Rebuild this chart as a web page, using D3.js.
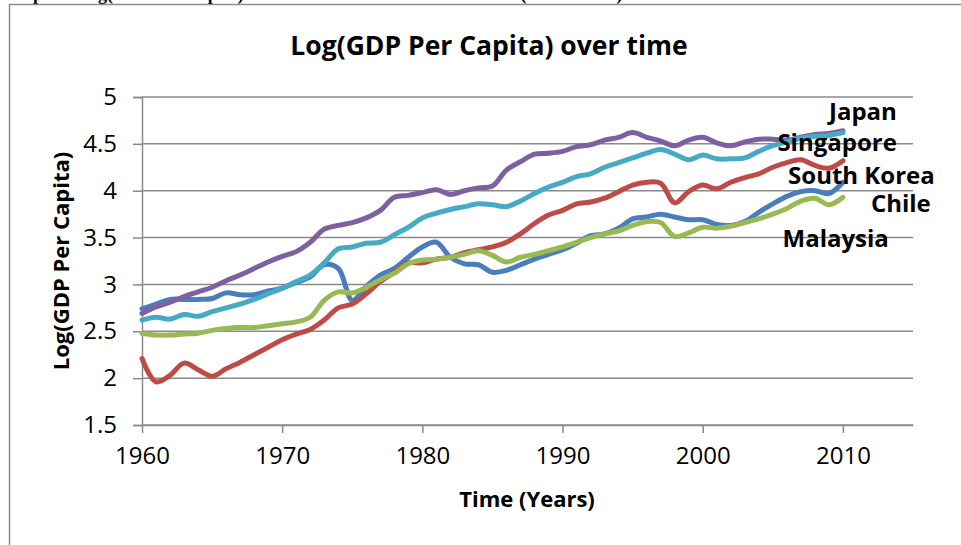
<!DOCTYPE html>
<html>
<head>
<meta charset="utf-8">
<script src="https://cdn.jsdelivr.net/npm/d3@7/dist/d3.min.js"></script>
<style>
  html, body { margin: 0; padding: 0; background: #fff; }
  svg { display: block; }
  text { font-family: "Open Sans", "Liberation Sans", sans-serif; fill: #000; }
</style>
</head>
<body>
<svg id="chart" width="961" height="545"></svg>
<script>
// Log(GDP per capita), 1960–2010
const years = d3.range(1960, 2011);

const chile = [2.74, 2.79, 2.84, 2.84, 2.84, 2.85, 2.91, 2.89, 2.89, 2.93,
  2.96, 3.02, 3.08, 3.21, 3.17, 2.83, 2.98, 3.10, 3.17, 3.29,
  3.40, 3.45, 3.29, 3.22, 3.21, 3.13, 3.15, 3.21, 3.27, 3.32,
  3.37, 3.44, 3.52, 3.54, 3.60, 3.70, 3.72, 3.75, 3.72, 3.69,
  3.69, 3.64, 3.63, 3.67, 3.77, 3.86, 3.94, 3.99, 4.00, 3.97, 4.09];

const southKorea = [2.21, 1.96, 2.03, 2.16, 2.09, 2.02, 2.10, 2.17, 2.25, 2.33,
  2.41, 2.47, 2.52, 2.62, 2.75, 2.79, 2.90, 3.03, 3.13, 3.23,
  3.23, 3.27, 3.29, 3.34, 3.37, 3.40, 3.45, 3.54, 3.65, 3.74,
  3.79, 3.86, 3.88, 3.92, 3.99, 4.06, 4.09, 4.08, 3.87, 3.99,
  4.06, 4.02, 4.09, 4.14, 4.18, 4.25, 4.30, 4.33, 4.27, 4.24, 4.32];

const malaysia = [2.48, 2.46, 2.46, 2.47, 2.48, 2.51, 2.53, 2.54, 2.54, 2.56,
  2.58, 2.60, 2.65, 2.83, 2.92, 2.91, 2.97, 3.05, 3.12, 3.22,
  3.26, 3.27, 3.29, 3.32, 3.36, 3.31, 3.24, 3.29, 3.32, 3.36,
  3.40, 3.45, 3.50, 3.54, 3.57, 3.63, 3.67, 3.66, 3.51, 3.55,
  3.61, 3.60, 3.62, 3.66, 3.70, 3.75, 3.81, 3.89, 3.92, 3.85, 3.93];

const japan = [2.69, 2.76, 2.81, 2.87, 2.92, 2.97, 3.04, 3.10, 3.17, 3.24,
  3.30, 3.35, 3.45, 3.59, 3.63, 3.66, 3.71, 3.79, 3.93, 3.95,
  3.98, 4.01, 3.96, 4.00, 4.03, 4.05, 4.22, 4.31, 4.39, 4.40,
  4.42, 4.47, 4.49, 4.54, 4.57, 4.62, 4.57, 4.53, 4.48, 4.54,
  4.57, 4.51, 4.48, 4.52, 4.55, 4.55, 4.54, 4.57, 4.60, 4.61, 4.64];

const singapore = [2.62, 2.65, 2.63, 2.68, 2.66, 2.71, 2.75, 2.79, 2.84, 2.90,
  2.96, 3.03, 3.10, 3.23, 3.38, 3.40, 3.44, 3.45, 3.53, 3.61,
  3.71, 3.76, 3.80, 3.83, 3.86, 3.85, 3.83, 3.89, 3.97, 4.04,
  4.09, 4.15, 4.18, 4.25, 4.30, 4.35, 4.40, 4.44, 4.39, 4.33,
  4.38, 4.34, 4.34, 4.35, 4.42, 4.48, 4.52, 4.56, 4.58, 4.59, 4.62];

const seriesNames = ["Chile", "South Korea", "Malaysia", "Japan", "Singapore"];
const seriesValues = [chile, southKorea, malaysia, japan, singapore];
const seriesColors = ["#4a7ebb", "#be4b48", "#98b954", "#7d60a0", "#46aac5"];

// country name labels: [name, year of right edge, value at vertical centre]
const labelNames = ["Japan", "Singapore", "South Korea", "Chile", "Malaysia"];
const labelYears = [2013.85, 2013.85, 2016.55, 2016.27, 2013.28];
const labelValues = [4.86, 4.52, 4.17, 3.87, 3.50];

const yTicks = [1.5, 2, 2.5, 3, 3.5, 4, 4.5, 5];
const xTicks = [1960, 1970, 1980, 1990, 2000, 2010];

const svg = d3.select("#chart");

// caption line of the surrounding document, mostly above the page edge
svg.append("text")
  .attr("x", 2).attr("y", 0)
  .style("font-family", "'Liberation Serif', serif")
  .style("font-weight", "bold")
  .style("font-size", "18px")
  .text("Graph 1: Log(GDP Per Capita) over time for the selected countries (1960 – 2010)");

// chart frame
svg.append("rect")
  .attr("x", 9.5).attr("y", 4.5)
  .attr("width", 1000).attr("height", 600)
  .attr("fill", "#fff")
  .attr("stroke", "#8e8e8e")
  .attr("stroke-width", 1.5);

const x = d3.scaleLinear().domain([1960, 2015]).range([142, 913]);
const y = d3.scaleLinear().domain([1.5, 5]).range([425, 97]);

const gridColor = "#8a8a8a";

// horizontal gridlines
svg.append("g")
  .selectAll("line")
  .data(yTicks)
  .join("line")
  .attr("x1", x(1960)).attr("x2", x(2015))
  .attr("y1", d => y(d)).attr("y2", d => y(d))
  .attr("stroke", gridColor)
  .attr("stroke-width", 1.5);

// y axis
const yAxis = svg.append("g")
  .attr("transform", `translate(${x(1960)},0)`)
  .call(d3.axisLeft(y).tickValues(yTicks).tickSize(9).tickPadding(16).tickFormat(d3.format("")));
yAxis.select(".domain").attr("stroke", gridColor).attr("stroke-width", 1.5);
yAxis.selectAll(".tick line").attr("stroke", gridColor).attr("stroke-width", 1.5);
yAxis.selectAll(".tick text")
  .style("font-family", "'Open Sans', sans-serif")
  .style("font-size", "24px")
  .attr("fill", "#000");

// x axis
const xAxis = svg.append("g")
  .attr("transform", `translate(0,${y(1.5)})`)
  .call(d3.axisBottom(x).tickValues(xTicks).tickSize(8).tickPadding(14).tickFormat(d3.format("d")).tickSizeOuter(0));
xAxis.select(".domain").attr("stroke", gridColor).attr("stroke-width", 1.5);
xAxis.selectAll(".tick line").attr("stroke", gridColor).attr("stroke-width", 1.5);
xAxis.selectAll(".tick text")
  .style("font-family", "'Open Sans', sans-serif")
  .style("font-size", "24px")
  .attr("fill", "#000");

// series lines
const line = d3.line()
  .x((d, i) => x(years[i]))
  .y(d => y(d))
  .curve(d3.curveCatmullRom.alpha(0.5));

svg.append("g")
  .selectAll("path")
  .data(seriesValues)
  .join("path")
  .attr("d", d => line(d))
  .attr("fill", "none")
  .attr("stroke", (d, i) => seriesColors[i])
  .attr("stroke-width", 5)
  .attr("stroke-linejoin", "round")
  .attr("stroke-linecap", "round");

// country labels
svg.append("g")
  .selectAll("text")
  .data(labelNames)
  .join("text")
  .attr("x", (d, i) => x(labelYears[i]))
  .attr("y", (d, i) => y(labelValues[i]))
  .attr("text-anchor", "end")
  .attr("dominant-baseline", "central")
  .style("font-weight", "bold")
  .style("font-size", "24px")
  .text(d => d);

// title
svg.append("text")
  .attr("x", 489).attr("y", 45)
  .attr("text-anchor", "middle")
  .attr("dominant-baseline", "central")
  .style("font-weight", "bold")
  .style("font-size", "26.5px")
  .text("Log(GDP Per Capita) over time");

// axis titles
svg.append("text")
  .attr("x", 527).attr("y", 498)
  .attr("text-anchor", "middle")
  .attr("dominant-baseline", "central")
  .style("font-weight", "bold")
  .style("font-size", "22px")
  .text("Time (Years)");

svg.append("text")
  .attr("transform", "translate(60,261) rotate(-90)")
  .attr("text-anchor", "middle")
  .attr("dominant-baseline", "central")
  .style("font-weight", "bold")
  .style("font-size", "22px")
  .text("Log(GDP Per Capita)");
</script>
</body>
</html>
